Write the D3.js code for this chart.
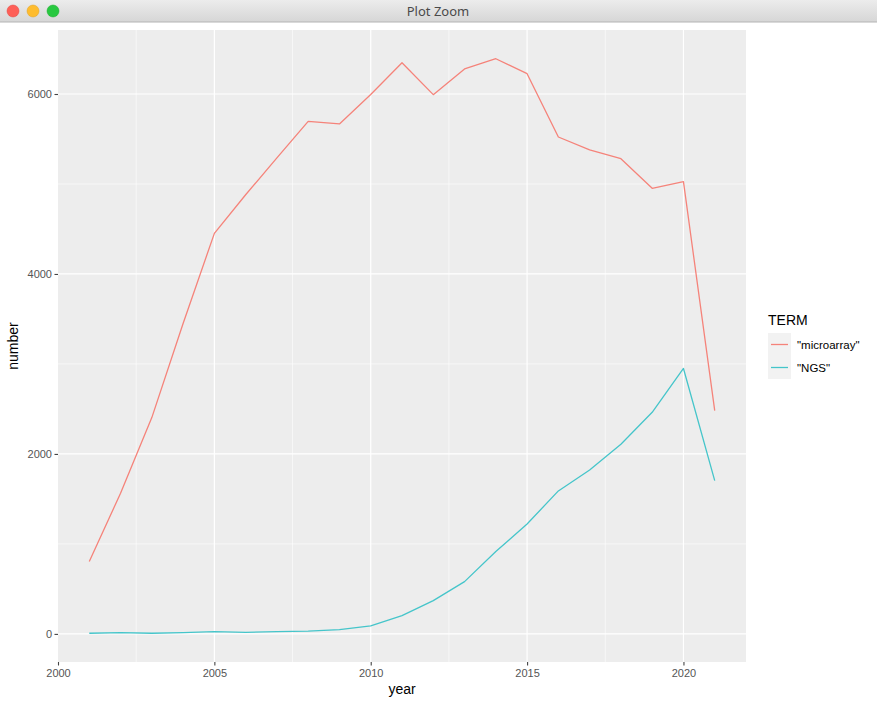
<!DOCTYPE html>
<html><head><meta charset="utf-8">
<script src="https://cdn.jsdelivr.net/npm/d3@7"></script>
<style>
body{margin:0;padding:0;background:#fff;overflow:hidden;}
svg{display:block;}
</style></head>
<body>
<svg id="chart" width="877" height="704"></svg>
<script>
const years = [2001,2002,2003,2004,2005,2006,2007,2008,2009,2010,2011,2012,2013,2014,2015,2016,2017,2018,2019,2020,2021];
const microarray = [805,1563,2404,3450,4451,4880,5290,5696,5667,5995,6347,5993,6278,6392,6226,5522,5378,5281,4952,5026,2481];
const ngs = [7,15,7,15,26,18,25,30,48,89,204,370,581,915,1222,1589,1822,2107,2463,2950,1704];
const seriesNames = ['"microarray"','"NGS"'];
const seriesColors = ["#F5837A","#45C5CA"];
const xTicks = [2000,2005,2010,2015,2020];
const xMinor = [2002.5,2007.5,2012.5,2017.5];
const yTicks = [0,2000,4000,6000];
const yMinor = [1000,3000,5000];

(function(){
const svg = d3.select("#chart");
const font = "'Liberation Sans', Arial, Helvetica, sans-serif";

// window chrome
const defs = svg.append("defs");
const g = defs.append("linearGradient").attr("id","tb").attr("x1",0).attr("y1",0).attr("x2",0).attr("y2",1);
g.append("stop").attr("offset","0%").attr("stop-color","#ececec");
g.append("stop").attr("offset","100%").attr("stop-color","#d6d6d6");
svg.append("rect").attr("x",0).attr("y",0).attr("width",877).attr("height",22).attr("fill","url(#tb)");
svg.append("line").attr("x1",0).attr("x2",877).attr("y1",22).attr("y2",22).attr("stroke","#b4b4b4").attr("stroke-width",1);
[["#fe5f57","#e0443e",13],["#febc2e","#dea123",33],["#28c840","#1aab29",53]].forEach(([f,s,cx])=>{
  svg.append("circle").attr("cx",cx).attr("cy",11).attr("r",6).attr("fill",f).attr("stroke",s).attr("stroke-width",0.5);
});
svg.append("text").attr("x",438).attr("y",15.5).attr("text-anchor","middle")
  .attr("font-family","'Noto Sans', 'Liberation Sans', sans-serif").attr("font-size",13).attr("fill","#4a4a4a").text("Plot Zoom");

// panel
const pLeft=58, pRight=746, pTop=30, pBottom=662;
const allVals = microarray.concat(ngs);
const [vmin,vmax] = d3.extent(allVals);
const pad = (vmax-vmin)*0.05;
const x = d3.scaleLinear().domain([2000,2022]).range([pLeft,pRight]);
const y = d3.scaleLinear().domain([vmin-pad, vmax+pad]).range([pBottom,pTop]);

svg.append("rect").attr("x",pLeft).attr("y",pTop).attr("width",pRight-pLeft).attr("height",pBottom-pTop).attr("fill","#EDEDED");

const grid = svg.append("g");
xMinor.forEach(v=>grid.append("line").attr("x1",x(v)).attr("x2",x(v)).attr("y1",pTop).attr("y2",pBottom).attr("stroke","#fff").attr("stroke-width",0.6));
yMinor.forEach(v=>grid.append("line").attr("y1",y(v)).attr("y2",y(v)).attr("x1",pLeft).attr("x2",pRight).attr("stroke","#fff").attr("stroke-width",0.6));
xTicks.filter(v=>v>2000).forEach(v=>grid.append("line").attr("x1",x(v)).attr("x2",x(v)).attr("y1",pTop).attr("y2",pBottom).attr("stroke","#fff").attr("stroke-width",1.2));
yTicks.forEach(v=>grid.append("line").attr("y1",y(v)).attr("y2",y(v)).attr("x1",pLeft).attr("x2",pRight).attr("stroke","#fff").attr("stroke-width",1.2));

// lines
const line = d3.line().x((d,i)=>x(years[i])).y(d=>y(d));
[microarray, ngs].forEach((s,i)=>{
  svg.append("path").datum(s).attr("d",line).attr("fill","none").attr("stroke",seriesColors[i]).attr("stroke-width",1.3).attr("stroke-linejoin","round");
});

// axes
const xAxis = svg.append("g").attr("transform",`translate(0,${pBottom})`)
  .call(d3.axisBottom(x).tickValues(xTicks).tickFormat(d3.format("d")).tickSize(3.5).tickPadding(2));
const yAxis = svg.append("g").attr("transform",`translate(${pLeft},0)`)
  .call(d3.axisLeft(y).tickValues(yTicks).tickFormat(d3.format("d")).tickSize(3.5).tickPadding(2.5));
[xAxis,yAxis].forEach(a=>{
  a.select(".domain").remove();
  a.selectAll(".tick line").attr("stroke","#444").attr("stroke-width",1.1);
  a.selectAll(".tick text").attr("fill","#555").attr("font-size",11).attr("font-family",font);
});
xAxis.selectAll(".tick text").attr("dy","0.9em");

svg.append("text").attr("x",(pLeft+pRight)/2).attr("y",694).attr("text-anchor","middle")
  .attr("font-family",font).attr("font-size",14).attr("fill","#000").text("year");
svg.append("text").attr("transform",`translate(18,${(pTop+pBottom)/2}) rotate(-90)`).attr("text-anchor","middle")
  .attr("font-family",font).attr("font-size",14).attr("fill","#000").text("number");

// legend
const lg = svg.append("g").attr("transform","translate(768,0)");
lg.append("text").attr("x",0).attr("y",325).attr("font-family",font).attr("font-size",14).attr("fill","#000").text("TERM");
seriesNames.forEach((n,i)=>{
  const ky = 333 + i*23;
  lg.append("rect").attr("x",0).attr("y",ky).attr("width",23).attr("height",23).attr("fill","#F2F2F2");
  lg.append("line").attr("x1",3).attr("x2",20).attr("y1",ky+11.5).attr("y2",ky+11.5).attr("stroke",seriesColors[i]).attr("stroke-width",1.3);
  lg.append("text").attr("x",29).attr("y",ky+15.5).attr("font-family",font).attr("font-size",11.5).attr("fill","#000").text(n);
});
})();
</script>
</body></html>
